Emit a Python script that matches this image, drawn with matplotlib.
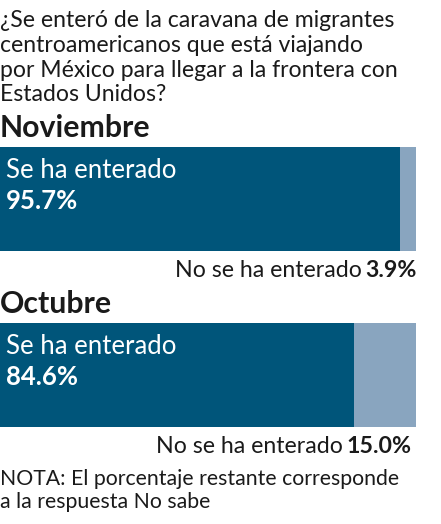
import matplotlib
matplotlib.use('Agg')
from matplotlib import pyplot as plt

plt.rcParams['font.family'] = ['Lato', 'DejaVu Sans']

# data
meses = ['Noviembre', 'Octubre']
se_ha_enterado = [95.7, 84.6]
no_se_ha_enterado = [3.9, 15.0]

pregunta = ['¿Se enteró de la caravana de migrantes',
            'centroamericanos que está viajando',
            'por México para llegar a la frontera con',
            'Estados Unidos?']
nota = ['NOTA: El porcentaje restante corresponde',
        'a la respuesta No sabe']

W, H = 441, 524
DARK = '#00557a'
LIGHT = '#89a5bf'
TXT = '#1a1a1a'

fig = plt.figure(figsize=(W / 100, H / 100), dpi=100)


def fy(py):
    # pixel row (from top) -> figure fraction
    return 1 - py / H


for i, linea in enumerate(pregunta):
    fig.text(0, fy(27 + i * 24.8), linea, fontsize=16.6, color=TXT, va='baseline', ha='left')

bar_tops = [147, 323]
head_base = [137, 313]
bar_h = 104
full_w = 418  # pixels for 100%

for k, mes in enumerate(meses):
    fig.text(0, fy(head_base[k]), mes, fontsize=21.8, fontweight='bold', color=TXT,
             va='baseline', ha='left')
    ax = fig.add_axes([0, fy(bar_tops[k] + bar_h), full_w / W, bar_h / H])
    ax.barh([0], [se_ha_enterado[k]], height=1, color=DARK, left=0)
    ax.barh([0], [no_se_ha_enterado[k]], height=1, color=LIGHT, left=se_ha_enterado[k])
    ax.set_xlim(0, 100)
    ax.set_ylim(-0.5, 0.5)
    ax.axis('off')
    ax.text(6 / full_w, 1 - 31 / bar_h, 'Se ha enterado', fontsize=18.5, color='white',
            va='baseline', ha='left', transform=ax.transAxes)
    ax.text(6 / full_w, 1 - 62 / bar_h, f'{se_ha_enterado[k]:.1f}%', fontsize=18.5,
            fontweight='bold', color='white', va='baseline', ha='left',
            transform=ax.transAxes)
    total = se_ha_enterado[k] + no_se_ha_enterado[k]
    lbl_y = fy(bar_tops[k] + bar_h + 26)
    t = fig.text(total * full_w / 100 / W - k * 5 / W, lbl_y,
                 f'{no_se_ha_enterado[k]:.1f}%',
                 fontsize=16.7, fontweight='bold', color=TXT, va='baseline', ha='right')
    fig.canvas.draw()
    bb = t.get_window_extent()
    fig.text((bb.x0 - 3) / W, lbl_y, 'No se ha enterado', fontsize=16.7, color=TXT,
             va='baseline', ha='right')

for i, linea in enumerate(nota):
    fig.text(0, fy(485 + i * 23.5), linea, fontsize=15.3, color=TXT, va='baseline', ha='left')

fig.savefig('out.png', dpi=100, facecolor='white')
